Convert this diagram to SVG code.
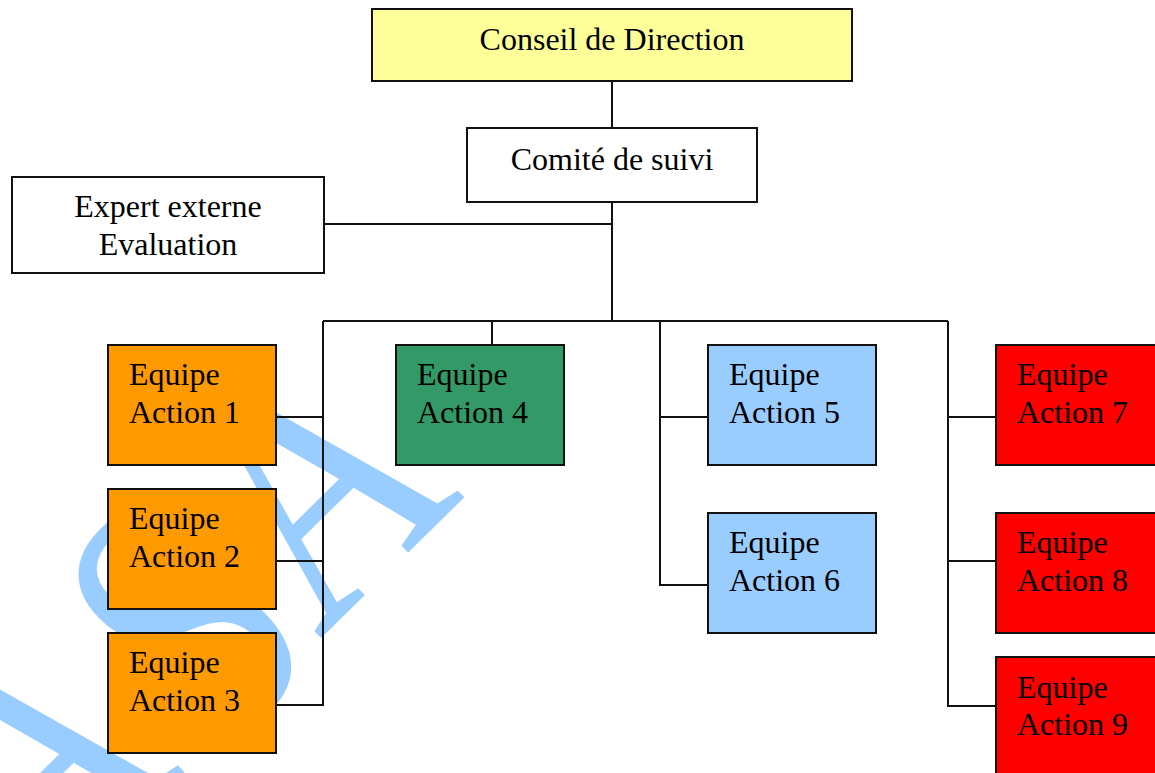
<svg xmlns="http://www.w3.org/2000/svg" width="1155" height="773" viewBox="0 0 1155 773">
<style>
.box{stroke:#111;stroke-width:2}
.lbl{font-family:"Liberation Serif","Times New Roman",serif;font-size:32px;fill:#000}
.c{text-anchor:middle}
.wire{fill:none;stroke:#111;stroke-width:2}
</style>
<rect width="1155" height="773" fill="#fff"/>
<g id="watermark">
<text x="0" y="0" transform="translate(39.3,915) rotate(-44.5) scale(1,1.3)" font-family="Liberation Serif, serif" font-size="285" letter-spacing="14" fill="#99CCFF">A<tspan dx="11.8" dy="9.8">S</tspan><tspan dx="-11.8" dy="-9.8">A</tspan></text>
</g>
<g id="connectors">
<path class="wire" d="M612 81V128"/>
<path class="wire" d="M612 202V321"/>
<path class="wire" d="M324 224H612"/>
<path class="wire" d="M323 321H948"/>
<path class="wire" d="M323 321V705H276"/>
<path class="wire" d="M323 417H276"/>
<path class="wire" d="M323 561H276"/>
<path class="wire" d="M492 321V345"/>
<path class="wire" d="M660 321V585H708"/>
<path class="wire" d="M660 417H708"/>
<path class="wire" d="M948 321V706H996"/>
<path class="wire" d="M948 417H996"/>
<path class="wire" d="M948 561H996"/>
</g>
<g id="conseil">
<rect class="box" x="372" y="9" width="480" height="72" fill="#FFFF99"/>
<text class="lbl c" x="612" y="50">Conseil de Direction</text>
</g>
<g id="comite">
<rect class="box" x="467" y="128" width="290" height="74" fill="#fff"/>
<text class="lbl c" x="612" y="170">Comité de suivi</text>
</g>
<g id="expert">
<rect class="box" x="12" y="177" width="312" height="96" fill="#fff"/>
<text class="lbl c" x="168" y="217">Expert externe</text>
<text class="lbl c" x="168" y="255">Evaluation</text>
</g>
<g id="action1">
<rect class="box" x="108" y="345" width="168" height="120" fill="#FF9900"/>
<text class="lbl" x="129" y="385">Equipe</text>
<text class="lbl" x="129" y="423">Action 1</text>
</g>
<g id="action2">
<rect class="box" x="108" y="489" width="168" height="120" fill="#FF9900"/>
<text class="lbl" x="129" y="529">Equipe</text>
<text class="lbl" x="129" y="567">Action 2</text>
</g>
<g id="action3">
<rect class="box" x="108" y="633" width="168" height="120" fill="#FF9900"/>
<text class="lbl" x="129" y="673">Equipe</text>
<text class="lbl" x="129" y="711">Action 3</text>
</g>
<g id="action4">
<rect class="box" x="396" y="345" width="168" height="120" fill="#339966"/>
<text class="lbl" x="417" y="385">Equipe</text>
<text class="lbl" x="417" y="423">Action 4</text>
</g>
<g id="action5">
<rect class="box" x="708" y="345" width="168" height="120" fill="#99CCFF"/>
<text class="lbl" x="729" y="385">Equipe</text>
<text class="lbl" x="729" y="423">Action 5</text>
</g>
<g id="action6">
<rect class="box" x="708" y="513" width="168" height="120" fill="#99CCFF"/>
<text class="lbl" x="729" y="553">Equipe</text>
<text class="lbl" x="729" y="591">Action 6</text>
</g>
<g id="action7">
<rect class="box" x="996" y="345" width="168" height="120" fill="#FF0000"/>
<text class="lbl" x="1017" y="385">Equipe</text>
<text class="lbl" x="1017" y="423">Action 7</text>
</g>
<g id="action8">
<rect class="box" x="996" y="513" width="168" height="120" fill="#FF0000"/>
<text class="lbl" x="1017" y="553">Equipe</text>
<text class="lbl" x="1017" y="591">Action 8</text>
</g>
<g id="action9">
<rect class="box" x="996" y="657" width="168" height="130" fill="#FF0000"/>
<text class="lbl" x="1017" y="698">Equipe</text>
<text class="lbl" x="1017" y="735">Action 9</text>
</g>
</svg>
